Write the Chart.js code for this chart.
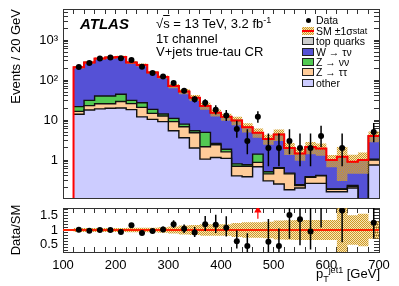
<!DOCTYPE html>
<html>
<head>
<meta charset="utf-8">
<script src="https://cdn.jsdelivr.net/npm/chart.js@4.4.1/dist/chart.umd.min.js"></script>
<style>
  body { margin:0; background:#fff; width:399px; height:286px; overflow:hidden; position:relative;
         font-family:"Liberation Sans", Arial, sans-serif; color:#000; }
  canvas { position:absolute; left:0; }
  #main { top:0; }
  #ratio { top:200px; }
  .txt { position:absolute; white-space:nowrap; font-size:13px; line-height:13px; }
  .atlas { font-weight:bold; font-style:italic; font-size:15px; line-height:15px; }
  .leg { position:absolute; left:302px; height:12px; display:flex; align-items:center; font-size:10.5px; white-space:nowrap; }
  .sw { width:10px; height:6px; border:1px solid #222; margin-right:2px; flex:none; position:relative; }
  sub, sup { font-size:9px; line-height:0; }
</style>
</head>
<body>
<canvas id="main" width="399" height="200"></canvas>
<canvas id="ratio" width="399" height="86"></canvas>

<div class="txt atlas" style="left:80px; top:16px;">ATLAS</div>
<div class="txt" style="left:156px; top:17px;">√<span style="text-decoration:overline">s</span> = 13 TeV, 3.2 fb<sup>-1</sup></div>
<div class="txt" style="left:156px; top:32px;">1τ channel</div>
<div class="txt" style="left:156px; top:45px;">V+jets true-tau CR</div>

<div class="leg" style="top:14px;"><span style="width:12px; display:inline-flex; justify-content:center; margin-right:2px;"><span style="width:5px;height:5px;border-radius:50%;background:#000;display:inline-block;"></span></span>Data</div>
<div class="leg" style="top:25px;"><span class="sw" id="smsw" style="border:none; width:12px; height:8px;"></span>SM ±1σ<sub>stat</sub></div>
<div class="leg" style="top:35px;"><span class="sw" style="background:#cccccc;"></span>top quarks</div>
<div class="leg" style="top:46px;"><span class="sw" style="background:#5551d6;"></span>W → τν</div>
<div class="leg" style="top:56px;"><span class="sw" style="background:#52c952;"></span>Z → νν</div>
<div class="leg" style="top:66px;"><span class="sw" style="background:#ffcc99;"></span>Z → ττ</div>
<div class="leg" style="top:77px;"><span class="sw" style="background:#ccccff;"></span>other</div>

<div class="txt" style="right:19px; top:267px;">p<sub>T</sub><sup>jet1</sup> [GeV]</div>

<script>
  // Bins (20 GeV wide, low edges) and per-sample yields
  const binLow = [120, 140, 160, 180, 200, 220, 240, 260, 280, 300, 320, 340, 360, 380, 400,
                  420, 440, 460, 480, 500, 520, 540, 560, 580, 600, 620, 640, 660, 680];
  const binWidth = 20;
  const otherVals = [14, 17.8, 19, 19.7, 20, 18.2, 12, 10.4, 9.1, 5.4, 3.6, 2.0, 1.05, 1.15, 1.1,
                     0.4, 0.38, 0.68, 0.3, 0.25, 0.18, 0.2, 0.26, 0.26, 0.16, 0.16, 0.2, 0.05, 0.75];
  const zttVals = [2.5, 5.2, 6.5, 5.8, 9, 7.5, 8.7, 4.3, 3.5, 3.7, 3.2, 2.8, 1.1, 1.25, 0.5,
                   0.3, 0.32, 0.19, 0.15, 0.37, 0.27, 0.03, 0.11, 0.14, 0.025, 0.025, 0.02, 0.01, 0.25];
  const zvvVals = [5.2, 8, 14.5, 14.5, 15, 5.3, 6.3, 3.8, 1.5, 1.9, 1.1, 0.6, 2.75, 0.2, 0.25,
                   0.1, 0.06, 0.53, 0.06, 0.02, 0.02, 0.01, 0.01, 0.01, 0.005, 0.005, 0.01, 0.01, 0.05];
  const wVals = [187, 243.5, 303, 326, 332, 243.5, 211, 136, 105, 59.6, 43.8, 30.4, 17.5, 12.6, 10.1,
                 8.9, 5.8, 3.4, 2.8, 3.7, 1.5, 1.2, 1.7, 1.5, 0.8, 1.0, 0.66, 0.92, 2.9];
  const topVals = [1.2, 1.5, 1.8, 1.8, 1.8, 1.4, 1.2, 0.8, 0.6, 0.4, 0.3, 0.2, 0.15, 0.1, 0.08,
                   0.06, 0.05, 0.04, 0.03, 0.03, 0.02, 0.02, 0.02, 0.02, 0.01, 0.01, 0.01, 0.01, 0.05];
  const statRelErr = [0.07, 0.07, 0.07, 0.07, 0.07, 0.08, 0.08, 0.08, 0.09, 0.12, 0.15, 0.17, 0.2, 0.2, 0.2,
                      0.24, 0.26, 0.26, 0.28, 0.32, 0.33, 0.34, 0.34, 0.34, 0.34, 0.75, 0.5, 0.55, 0.3];

  // Data
  const dataVals = [212, 268, 345, 368, 352, 320, 215, 150, 122, 85, 54, 33, 27, 18, 13,
                    6, 3, 12, 2, 2, 3, 2, 2, 4, 0, 2, 0, 0, 5];
  const dataErrDown = [14.6, 16.4, 18.6, 19.2, 18.8, 17.9, 14.7, 12.2, 11, 9.2, 7.3, 5.7, 5.2, 4.2, 3.6,
                       2.4, 1.6, 3.4, 1.3, 1.3, 1.6, 1.3, 1.3, 1.9, 0, 1.3, 0, 0, 2.2];
  const dataErrUp = [15.1, 16.9, 19.1, 19.7, 19.3, 18.4, 15.2, 12.7, 11.5, 9.7, 7.9, 6.8, 6.3, 5.3, 4.7,
                     3.6, 2.9, 4.5, 2.6, 2.6, 2.9, 2.6, 2.6, 3.2, 0, 2.6, 0, 0, 3.4];

  // Axes / tick labels
  const xTickLabels = [100, 200, 300, 400, 500, 600, 700];
  const yTickLabels = { 1: '1', 10: '10', 100: '10²', 1000: '10³' };
  const ratioTickLabels = [0.5, 1, 1.5];
  const yMin = 0.112, yMax = 6000, rMin = 0.25, rMax = 1.75;

  const colors = { other: '#ccccff', ztt: '#ffcc99', zvv: '#52c952', w: '#5551d6', top: '#cccccc' };

  Chart.defaults.font.family = '"Liberation Sans", Arial, sans-serif';
  Chart.defaults.font.size = 13;
  Chart.defaults.color = '#000';

  // hatched band pattern
  function makeHatch() {
    const c = document.createElement('canvas');
    c.width = 2; c.height = 2;
    const g = c.getContext('2d');
    g.fillStyle = '#cf9a26'; g.fillRect(0, 0, 1, 1); g.fillRect(1, 1, 1, 1);
    g.fillStyle = 'rgba(235,190,80,0.4)'; g.fillRect(1, 0, 1, 1); g.fillRect(0, 1, 1, 1);
    return g.createPattern(c, 'repeat');
  }
  const hatch = makeHatch();
  document.getElementById('smsw').style.background =
    'linear-gradient(#f00,#f00) center/100% 2px no-repeat, repeating-conic-gradient(#cf9a26 0 25%, #f6e2b0 0 50%) 0 0/2px 2px';

  // stacked cumulative totals
  const layers = [otherVals, zttVals, zvvVals, wVals, topVals];
  const cum = [];
  let run = binLow.map(() => 0);
  layers.forEach(v => { run = run.map((r, i) => r + v[i]); cum.push(run); });
  const smTotal = cum[cum.length - 1];
  const centers = binLow.map(b => b + binWidth / 2);
  const lastEdge = binLow[binLow.length - 1] + binWidth;

  function steps(vals) {
    const pts = vals.map((v, i) => ({ x: binLow[i], y: v }));
    pts.push({ x: lastEdge, y: vals[vals.length - 1] });
    return pts;
  }

  function stackLayer(vals, color, order) {
    return { data: steps(vals), stepped: true, fill: 'start', backgroundColor: color,
             borderColor: '#111', borderWidth: 1.4, pointRadius: 0, order: order,
             xAxisID: 'x', yAxisID: 'y' };
  }

  // data error bars as broken line segments
  const mainErr = [];
  centers.forEach((c, i) => {
    if (dataVals[i] > 0) {
      mainErr.push({ x: c, y: dataVals[i] - dataErrDown[i] }, { x: c, y: dataVals[i] + dataErrUp[i] }, { x: c, y: null });
    }
  });
  const mainPts = centers.map((c, i) => ({ x: c, y: dataVals[i] > 0 ? dataVals[i] : null }));

  const smLine = [{ x: binLow[0], y: yMin / 10 }].concat(steps(smTotal));

  const yTickValues = [];
  for (let e = -1; e <= 3; e++) {
    for (let m = 1; m <= 9; m++) {
      const v = m * Math.pow(10, e);
      if (v > yMin && v < yMax) yTickValues.push(v);
    }
  }

  // fixed box size, no automatic label padding
  function fixSize(w, h) {
    return s => {
      if (w !== null) s.width = w;
      if (h !== null) s.height = h;
      s.paddingTop = 0; s.paddingBottom = 0; s.paddingLeft = 0; s.paddingRight = 0;
    };
  }

  function frame(extra) {
    return Object.assign({
      grid: { drawOnChartArea: false, tickLength: -5, color: '#333', tickColor: '#333' },
      border: { color: '#333', width: 1 },
      z: 1
    }, extra);
  }

  new Chart(document.getElementById('main'), {
    type: 'line',
    data: {
      datasets: [
        { data: mainPts, showLine: false, pointRadius: 3, pointBackgroundColor: '#000', pointBorderWidth: 0, order: 0, xAxisID: 'x', yAxisID: 'y' },
        { data: mainErr, borderColor: '#000', borderWidth: 1.5, pointRadius: 0, spanGaps: false, order: 0, xAxisID: 'x', yAxisID: 'y' },
        { data: smLine, stepped: true, borderColor: '#ff0000', borderWidth: 2, pointRadius: 0, fill: false, order: 1, xAxisID: 'x', yAxisID: 'y' },
        { data: steps(smTotal.map((v, i) => v * (1 + statRelErr[i]))), stepped: true, borderColor: 'transparent', pointRadius: 0,
          fill: '+1', backgroundColor: hatch, order: 2, xAxisID: 'x', yAxisID: 'y' },
        { data: steps(smTotal.map((v, i) => v * (1 - statRelErr[i]))), stepped: true, borderColor: 'transparent', pointRadius: 0,
          fill: false, order: 2, xAxisID: 'x', yAxisID: 'y' },
        stackLayer(cum[4], colors.top, 7),
        stackLayer(cum[3], colors.w, 6),
        stackLayer(cum[2], colors.zvv, 5),
        stackLayer(cum[1], colors.ztt, 4),
        stackLayer(cum[0], colors.other, 3)
      ]
    },
    options: {
      responsive: false, animation: false, devicePixelRatio: 1,
      layout: { autoPadding: false, padding: { left: 0, right: 20, top: 9, bottom: 2 } },
      plugins: { legend: { display: false }, tooltip: { enabled: false } },
      scales: {
        x: frame({ type: 'linear', position: 'bottom', min: 100, max: 700,
                   ticks: { stepSize: 20, autoSkip: false, maxRotation: 0, callback: () => '' },
                   afterFit: fixSize(null, 0) }),
        x2: frame({ type: 'linear', position: 'top', min: 100, max: 700,
                    ticks: { stepSize: 20, autoSkip: false, maxRotation: 0, callback: () => '' },
                    afterFit: fixSize(null, 0) }),
        y: frame({ type: 'logarithmic', position: 'left', min: yMin, max: yMax,
                   afterBuildTicks: s => { s.ticks = yTickValues.map(v => ({ value: v })); },
                   ticks: { autoSkip: false, padding: 10, callback: v => yTickLabels[v] || '' },
                   title: { display: true, text: 'Events / 20 GeV', align: 'end', padding: { top: 9, bottom: 0 } },
                   afterFit: fixSize(63, null) }),
        yR: frame({ type: 'logarithmic', position: 'right', min: yMin, max: yMax,
                    afterBuildTicks: s => { s.ticks = yTickValues.map(v => ({ value: v })); },
                    ticks: { autoSkip: false, callback: () => '' },
                    afterFit: fixSize(0, null) })
      }
    }
  });

  // Ratio panel
  const ratioPts = centers.map((c, i) => ({ x: c, y: dataVals[i] > 0 ? dataVals[i] / smTotal[i] : null }));
  const ratioErr = [];
  const arrows = [];
  centers.forEach((c, i) => {
    if (dataVals[i] <= 0) return;
    const lo = (dataVals[i] - dataErrDown[i]) / smTotal[i];
    const hi = (dataVals[i] + dataErrUp[i]) / smTotal[i];
    if (lo > rMax) {
      arrows.push({ x: c, y: rMax - 0.37 }, { x: c, y: rMax - 0.08 }, { x: c, y: null });
    } else {
      ratioErr.push({ x: c, y: lo }, { x: c, y: hi }, { x: c, y: null });
    }
  });

  const rTickValues = [];
  for (let k = 3; k <= 17; k++) rTickValues.push(k / 10);

  new Chart(document.getElementById('ratio'), {
    type: 'line',
    data: {
      datasets: [
        { data: ratioPts, showLine: false, pointRadius: 3, pointBackgroundColor: '#000', pointBorderWidth: 0, order: 0, xAxisID: 'x', yAxisID: 'y' },
        { data: ratioErr, borderColor: '#000', borderWidth: 1.5, pointRadius: 0, spanGaps: false, order: 0, xAxisID: 'x', yAxisID: 'y' },
        { data: arrows, borderColor: '#ff0000', borderWidth: 1.2, spanGaps: false, order: 0,
          pointStyle: 'triangle', pointBackgroundColor: '#ff0000', pointBorderColor: '#ff0000',
          pointRadius: ctx => (ctx.dataIndex % 3 === 1 ? 3 : 0), xAxisID: 'x', yAxisID: 'y' },
        { data: [{ x: 100, y: 1 }, { x: 700, y: 1 }], borderColor: '#ff2200', borderWidth: 2, pointRadius: 0, order: 1, xAxisID: 'x', yAxisID: 'y' },
        { data: steps(statRelErr.map(u => 1 + u)), stepped: true, borderColor: 'transparent', pointRadius: 0,
          fill: '+1', backgroundColor: hatch, order: 2, xAxisID: 'x', yAxisID: 'y' },
        { data: steps(statRelErr.map(u => 1 - u)), stepped: true, borderColor: 'transparent', pointRadius: 0,
          fill: false, order: 2, xAxisID: 'x', yAxisID: 'y' }
      ]
    },
    options: {
      responsive: false, animation: false, devicePixelRatio: 1,
      layout: { autoPadding: false, padding: { left: 0, right: 20, top: 8, bottom: 0 } },
      plugins: { legend: { display: false }, tooltip: { enabled: false } },
      scales: {
        x: frame({ type: 'linear', position: 'bottom', min: 100, max: 700,
                   ticks: { stepSize: 20, autoSkip: false, maxRotation: 0, padding: 11,
                            callback: v => (xTickLabels.includes(v) ? String(v) : '') },
                   afterFit: fixSize(null, 34) }),
        x2: frame({ type: 'linear', position: 'top', min: 100, max: 700,
                    ticks: { stepSize: 20, autoSkip: false, maxRotation: 0, callback: () => '' },
                    afterFit: fixSize(null, 0) }),
        y: frame({ type: 'linear', position: 'left', min: rMin, max: rMax,
                   afterBuildTicks: s => { s.ticks = rTickValues.map(v => ({ value: v })); },
                   ticks: { autoSkip: false, padding: 10,
                            callback: v => { const t = ratioTickLabels.find(r => Math.abs(r - v) < 1e-6); return t === undefined ? '' : String(t); } },
                   title: { display: true, text: 'Data/SM', padding: { top: 9, bottom: 0 } },
                   afterFit: fixSize(63, null) }),
        yR: frame({ type: 'linear', position: 'right', min: rMin, max: rMax,
                    afterBuildTicks: s => { s.ticks = rTickValues.map(v => ({ value: v })); },
                    ticks: { autoSkip: false, callback: () => '' },
                    afterFit: fixSize(0, null) })
      }
    }
  });
</script>
</body>
</html>
